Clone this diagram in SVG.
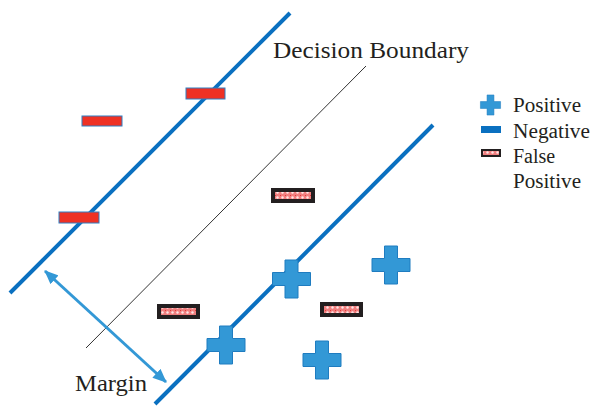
<svg xmlns="http://www.w3.org/2000/svg" xmlns:xlink="http://www.w3.org/1999/xlink" width="592" height="406" viewBox="0 0 592 406">
  <style>
    text { fill: #231f20; font-family: "Liberation Serif", "DejaVu Serif", serif; }
    .hyper { stroke: #0a70c0; stroke-width: 4; fill: none; }
    .boundary { stroke: #333; stroke-width: 1; fill: none; }
    .neg { fill: #ee3124; stroke: #2f7fc1; stroke-width: 1; }
    .fp-frame { fill: #231f20; }
    .plus { fill: #3398d6; stroke: #1f7cc0; stroke-width: 1; }
    .margin { stroke: #3398d6; stroke-width: 3; fill: none; }
  </style>
  <defs>
    <!-- pink dotted fill used inside the false-positive boxes -->
    <pattern id="dots" width="5" height="5" patternUnits="userSpaceOnUse">
      <rect width="5" height="5" fill="#f07f7f"/>
      <circle cx="2.5" cy="2.5" r="1.2" fill="#ffe6e6"/>
      <rect x="0" y="0" width="1" height="1" fill="#e53a3a"/>
    </pattern>
    <path id="plusShape" d="M-6.5,-19 H6.5 V-6.5 H19 V6.5 H6.5 V19 H-6.5 V6.5 H-19 V-6.5 H-6.5 Z"/>
    <marker id="head" viewBox="0 0 14 12" refX="13" refY="6" markerWidth="14" markerHeight="12" markerUnits="userSpaceOnUse" orient="auto-start-reverse">
      <path d="M0,0 L14,6 L0,12 Z" fill="#3398d6"/>
    </marker>
  </defs>

  <g id="connectors">
    <line id="upper-margin" class="hyper" x1="10" y1="293" x2="290" y2="13"/>
    <line id="lower-margin" class="hyper" x1="155" y1="404" x2="433" y2="125"/>
    <line id="decision-boundary" class="boundary" x1="86" y1="348" x2="366" y2="66"/>
    <line id="margin-arrow" class="margin" x1="45" y1="271" x2="166" y2="382" marker-start="url(#head)" marker-end="url(#head)"/>
  </g>

  <!-- negative samples -->
  <g id="neg1"><rect class="neg" x="186" y="88" width="39" height="11"/></g>
  <g id="neg2"><rect class="neg" x="82" y="116" width="40" height="10"/></g>
  <g id="neg3"><rect class="neg" x="59" y="212" width="40" height="11"/></g>

  <!-- false positives -->
  <g id="fp1"><rect class="fp-frame" x="271" y="188" width="44" height="15"/><rect fill="url(#dots)" x="275" y="192" width="36" height="7"/></g>
  <g id="fp2"><rect class="fp-frame" x="157" y="304" width="43" height="15"/><rect fill="url(#dots)" x="161" y="308" width="35" height="7"/></g>
  <g id="fp3"><rect class="fp-frame" x="320" y="302" width="43" height="15"/><rect fill="url(#dots)" x="324" y="306" width="35" height="7"/></g>

  <!-- positive samples -->
  <g id="pos1"><use xlink:href="#plusShape" class="plus" transform="translate(291.5,279)"/></g>
  <g id="pos2"><use xlink:href="#plusShape" class="plus" transform="translate(226,345)"/></g>
  <g id="pos3"><use xlink:href="#plusShape" class="plus" transform="translate(322,360)"/></g>
  <g id="pos4"><use xlink:href="#plusShape" class="plus" transform="translate(391,265)"/></g>

  <g id="label-boundary"><text x="273" y="58" font-size="23" textLength="196" lengthAdjust="spacingAndGlyphs">Decision Boundary</text></g>
  <g id="label-margin"><text x="75" y="391" font-size="23" textLength="72" lengthAdjust="spacingAndGlyphs">Margin</text></g>

  <!-- legend -->
  <g id="legend">
    <use xlink:href="#plusShape" class="plus" transform="translate(490.5,105) scale(0.53)"/>
    <rect x="481" y="126" width="20" height="7" fill="#0a70c0"/>
    <rect x="481" y="149" width="20" height="8" fill="#231f20"/>
    <rect x="483" y="151" width="16" height="4" fill="url(#dots)"/>
    <text x="513" y="112" font-size="20" textLength="68" lengthAdjust="spacingAndGlyphs">Positive</text>
    <text x="513" y="138" font-size="20" textLength="77" lengthAdjust="spacingAndGlyphs">Negative</text>
    <text x="513" y="163" font-size="20">False</text>
    <text x="513" y="188" font-size="20" textLength="68" lengthAdjust="spacingAndGlyphs">Positive</text>
  </g>
</svg>
